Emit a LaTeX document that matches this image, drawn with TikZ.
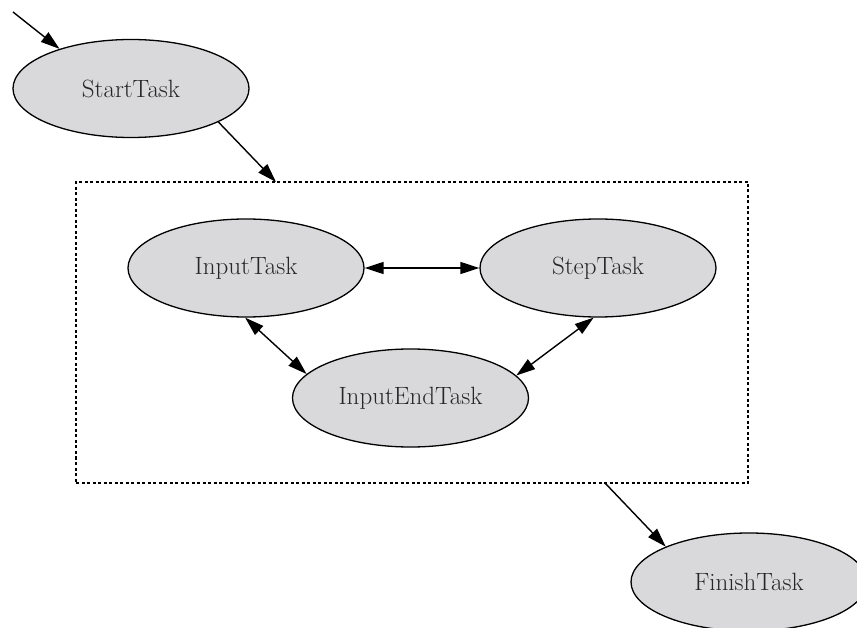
\documentclass[tikz,border=0pt]{standalone}
\usetikzlibrary{arrows.meta,shapes.geometric}
\definecolor{nodefill}{RGB}{217,217,219}
\begin{document}
\begin{tikzpicture}[x=1pt,y=-1pt,
  task/.style={ellipse,draw=black,line width=1.3pt,fill=nodefill,minimum width=236pt,minimum height=98pt,inner sep=0pt,text=black!85,font=\fontsize{25}{29}\selectfont},
  tip/.tip={Triangle[length=19pt,width=12pt]},
  arr/.style={line width=1.4pt,-tip},
  darr/.style={line width=1.4pt,tip-tip},
  clusterbox/.style={draw=black,line width=1.4pt,dash pattern=on 3pt off 2.5pt,minimum width=672pt,minimum height=301pt,inner sep=0pt}]
\clip (0,0) rectangle (857,628);
\useasboundingbox (0,0) rectangle (857,628);
\node[clusterbox] (box) at (412,332.5) {};
\node[task] (s) at (131,88.5) {StartTask};
\node[task] (it) at (246,268) {InputTask};
\node[task] (st) at (598,268) {StepTask};
\node[task] (ie) at (410.5,398) {InputEndTask};
\node[task] (f) at (749,582) {FinishTask};
\coordinate (top) at (13,12);
\coordinate (cin) at (276,182);
\coordinate (cout) at (605,483);
\draw[arr] (top) -- (s.151);
\draw[arr] (s.-21) -- (cin);
\draw[darr] (it.east) -- (st.west);
\draw[darr] (it.-91) -- (ie.167);
\draw[darr] (st.-95) -- (ie.12);
\draw[arr] (cout) -- (f.157);
\end{tikzpicture}
\end{document}
